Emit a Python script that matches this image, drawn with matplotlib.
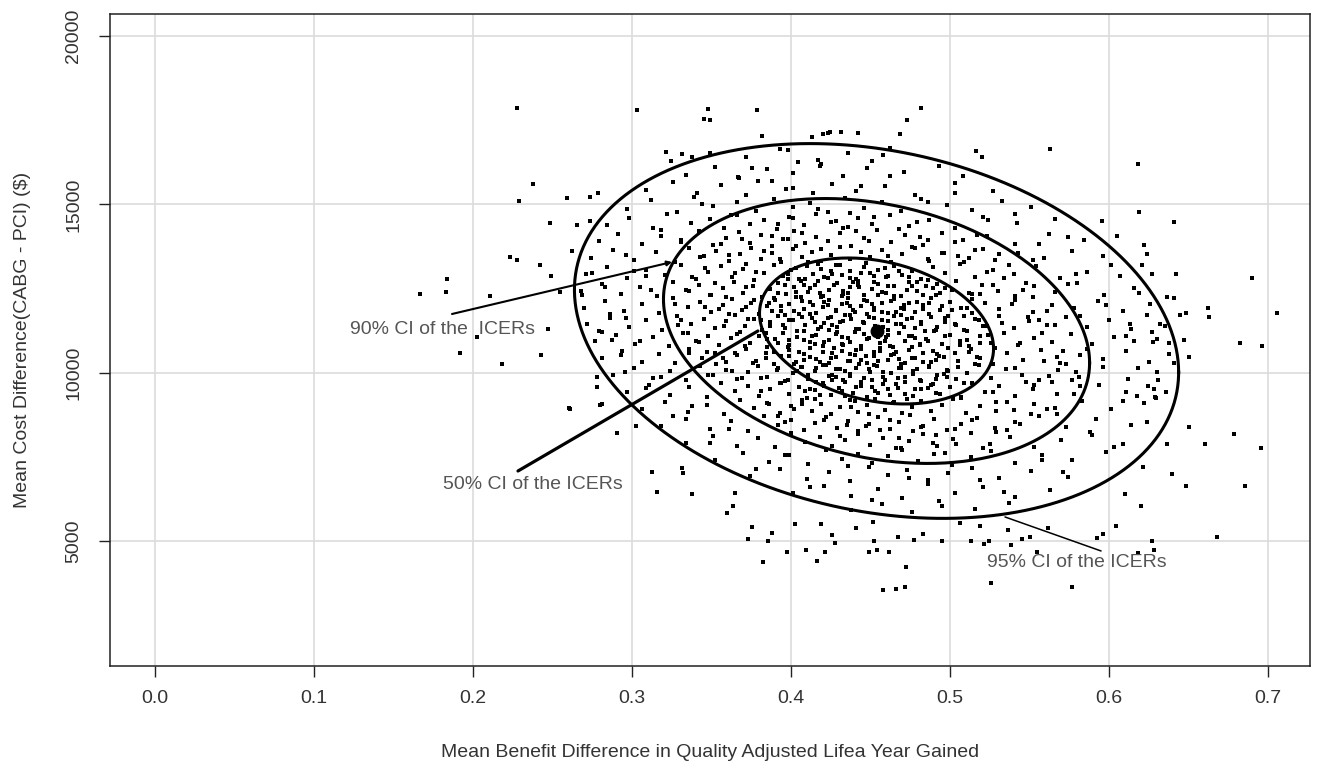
"""Cost-effectiveness plane: bootstrapped ICERs with confidence ellipses."""

import matplotlib

matplotlib.use("Agg")

import matplotlib.pyplot as plt
import numpy as np

plt.rcParams["font.family"] = ["Liberation Sans", "DejaVu Sans"]

INK = "#222222"
TEXT = "#333333"
NOTE = "#555555"
GRID = "#DCDCDC"

# ---- data ----------------------------------------------------------------
# mean of the bootstrap replicates
mean_point = (0.4538, 11246)

# confidence ellipses: half-extents along x / y and the x-y correlation
ellipse_names = ["50%", "90%", "95%"]
ellipse_half_x = [0.0736, 0.134, 0.190]
ellipse_half_y = [2166, 3930, 5560]
ellipse_rho = [-0.24, -0.24, -0.22]

# sparse replicates around / outside the outer ellipse
outer_points = [
    (0.2275, 17850), (0.2379, 15600), (0.2291, 15100), (0.2589, 15200), (0.2736, 15230),
    (0.2788, 15350), (0.2484, 14460), (0.2652, 14390), (0.2736, 14510), (0.2625, 13630),
    (0.2233, 13430), (0.2275, 13350), (0.2421, 13210), (0.2491, 12890), (0.2746, 12980),
    (0.1838, 12790), (0.1828, 12400), (0.1667, 12350), (0.2107, 12290), (0.2547, 12410),
    (0.2684, 12310), (0.1918, 10580), (0.2180, 10260), (0.2426, 10530), (0.2470, 11310),
    (0.2023, 11060), (0.2606, 8950), (0.2778, 9890), (0.2778, 9590), (0.2809, 9070),
    (0.2908, 8210), (0.2956, 10040), (0.2809, 11230), (0.2872, 10980), (0.2610, 8930),
    (0.2799, 9050), (0.3025, 8440), (0.3128, 7050), (0.3159, 6460), (0.3312, 7170),
    (0.3319, 7020), (0.3379, 6410), (0.3648, 6450), (0.3637, 6060), (0.3596, 5840),
    (0.3753, 5440), (0.3731, 5070), (0.3857, 5020), (0.3878, 5240), (0.3826, 4400),
    (0.3977, 4700), (0.4025, 5520), (0.4092, 4750), (0.4162, 4420), (0.4187, 5530),
    (0.4214, 4700), (0.4260, 5190), (0.4277, 4950), (0.4409, 5410), (0.4518, 5590),
    (0.4522, 5000), (0.4493, 4700), (0.4539, 4750), (0.4618, 4700), (0.4675, 5140),
    (0.4723, 4240), (0.4775, 5050), (0.4828, 5210), (0.4577, 3560), (0.4660, 3590),
    (0.4717, 3660), (0.4952, 5020), (0.5063, 5540), (0.5130, 5020), (0.5189, 5470),
    (0.5216, 4920), (0.5245, 5020), (0.5256, 3760), (0.5382, 4900), (0.5367, 5340),
    (0.5451, 5070), (0.5503, 5140), (0.5545, 4700), (0.5618, 5390), (0.5765, 3660),
    (0.5922, 5100), (0.5960, 5220), (0.6044, 5460), (0.6201, 6050), (0.6101, 6410),
    (0.6184, 4650), (0.6272, 5000), (0.6283, 4750), (0.6484, 6650), (0.6677, 5140),
    (0.6855, 6660), (0.5629, 16640), (0.6180, 16190), (0.6189, 14770), (0.6411, 14470),
    (0.5954, 14520), (0.6048, 14070), (0.6222, 13800), (0.6237, 13530), (0.6206, 13200),
    (0.6272, 12940), (0.6421, 12940), (0.6363, 12260), (0.6409, 12230), (0.6447, 11720),
    (0.6482, 11770), (0.6621, 11920), (0.6629, 11670), (0.6901, 12830), (0.7058, 11770),
    (0.6824, 10880), (0.6964, 10810), (0.6505, 10470), (0.6474, 10980), (0.6300, 11000),
    (0.6275, 10930), (0.6136, 11310), (0.6310, 9790), (0.6247, 9620), (0.6283, 9520),
    (0.6293, 9250), (0.6178, 9320), (0.6786, 8190), (0.6956, 7780), (0.6604, 7880),
    (0.6501, 8390), (0.6394, 7000), (0.6363, 7890), (0.6216, 7220), (0.3033, 17800),
    (0.3480, 17830), (0.3453, 17540), (0.3491, 17510), (0.3784, 17800), (0.3816, 17040),
    (0.4134, 17010), (0.4199, 17080), (0.4235, 17110), (0.4245, 17140), (0.4314, 17140),
    (0.4423, 17110), (0.4686, 17080), (0.4732, 17510), (0.4816, 17850), (0.5161, 16600),
    (0.5203, 16400), (0.3212, 16570), (0.3245, 16290), (0.3312, 16490), (0.3375, 16420),
    (0.3491, 16520), (0.3931, 16640), (0.3753, 16090), (0.4046, 16250), (0.4581, 16470),
    (0.5084, 15850), (0.3669, 15800),
]

# replicates inside the outer ellipse, listed band by band from the top
band_points = [
    (0.372, 16420), (0.398, 16610), (0.417, 16330), (0.436, 16520), (0.451, 16290), (0.462, 16680),
    (0.334, 15880), (0.352, 16120), (0.367, 15790), (0.385, 16040), (0.401, 15920), (0.419, 16190),
    (0.433, 15830), (0.448, 16070), (0.471, 15960), (0.493, 16150),
    (0.309, 15420), (0.326, 15680), (0.341, 15350), (0.356, 15590), (0.372, 15280), (0.388, 15710),
    (0.397, 15460), (0.414, 15330), (0.426, 15620), (0.441, 15390), (0.459, 15540), (0.478, 15270),
    (0.503, 15650), (0.527, 15410),
    (0.297, 14880), (0.312, 15120), (0.328, 14790), (0.339, 15210), (0.351, 14960), (0.366, 15080),
    (0.378, 14820), (0.389, 15170), (0.401, 14930), (0.412, 15040), (0.423, 14770), (0.434, 15190),
    (0.446, 14900), (0.457, 15060), (0.469, 14810), (0.482, 15150), (0.498, 14970), (0.514, 14850),
    (0.533, 15090), (0.551, 14920),
    (0.284, 14380), (0.298, 14610), (0.313, 14290), (0.322, 14720), (0.337, 14450), (0.349, 14560),
    (0.358, 14310), (0.366, 14690), (0.374, 14420), (0.383, 14530), (0.391, 14270), (0.399, 14640),
    (0.408, 14380), (0.416, 14710), (0.425, 14490), (0.433, 14300), (0.442, 14600), (0.451, 14410),
    (0.462, 14680), (0.474, 14350), (0.487, 14550), (0.503, 14290), (0.521, 14620), (0.542, 14440),
    (0.566, 14570),
    (0.279, 13910), (0.291, 14130), (0.306, 13820), (0.318, 14060), (0.331, 13950), (0.342, 14210),
    (0.351, 13790), (0.359, 14000), (0.367, 14180), (0.374, 13870), (0.381, 14090), (0.388, 13760),
    (0.395, 13990), (0.402, 14220), (0.409, 13850), (0.416, 14040), (0.423, 13920), (0.431, 14160),
    (0.438, 13780), (0.446, 14010), (0.454, 14230), (0.463, 13890), (0.472, 14080), (0.483, 13810),
    (0.495, 14150), (0.508, 13940), (0.523, 14070), (0.541, 13830), (0.562, 14110), (0.584, 13960),
    (0.274, 13420), (0.288, 13640), (0.301, 13350), (0.315, 13580), (0.327, 13290), (0.336, 13710),
    (0.345, 13470), (0.353, 13610), (0.361, 13330), (0.368, 13540), (0.375, 13720), (0.381, 13390),
    (0.388, 13560), (0.394, 13280), (0.401, 13680), (0.407, 13450), (0.413, 13600), (0.419, 13320),
    (0.425, 13510), (0.431, 13740), (0.437, 13370), (0.444, 13590), (0.450, 13430), (0.457, 13660),
    (0.463, 13300), (0.470, 13520), (0.478, 13700), (0.486, 13380), (0.495, 13570), (0.505, 13460),
    (0.516, 13650), (0.528, 13340), (0.543, 13550), (0.559, 13420), (0.577, 13620), (0.596, 13480),
    (0.271, 12940), (0.284, 13150), (0.297, 12830), (0.309, 13060), (0.321, 12910), (0.331, 13200),
    (0.340, 12790), (0.348, 13010), (0.356, 13170), (0.363, 12860), (0.370, 13090), (0.377, 12770),
    (0.383, 12980), (0.389, 13210), (0.395, 12880), (0.400, 13050), (0.405, 12800), (0.410, 13160),
    (0.414, 12950), (0.419, 13080), (0.423, 12820), (0.428, 13190), (0.432, 12900), (0.437, 13030),
    (0.441, 12780), (0.446, 13140), (0.450, 12970), (0.455, 13070), (0.460, 12840), (0.465, 13180),
    (0.470, 12920), (0.476, 13040), (0.482, 12790), (0.489, 13130), (0.497, 12960), (0.506, 13220),
    (0.516, 12850), (0.527, 13060), (0.540, 12930), (0.554, 13170), (0.569, 12810), (0.586, 13000),
    (0.607, 12890),
    (0.268, 12420), (0.281, 12630), (0.293, 12340), (0.305, 12560), (0.316, 12280), (0.326, 12710),
    (0.334, 12450), (0.342, 12600), (0.350, 12310), (0.357, 12520), (0.364, 12700), (0.370, 12370),
    (0.376, 12580), (0.382, 12260), (0.387, 12490), (0.392, 12680), (0.397, 12330), (0.402, 12550),
    (0.406, 12740), (0.411, 12400), (0.415, 12610), (0.420, 12290), (0.424, 12470), (0.429, 12660),
    (0.433, 12350), (0.437, 12540), (0.442, 12720), (0.446, 12300), (0.451, 12500), (0.455, 12640),
    (0.460, 12380), (0.465, 12570), (0.469, 12270), (0.474, 12690), (0.479, 12430), (0.485, 12590),
    (0.491, 12320), (0.497, 12510), (0.504, 12730), (0.512, 12360), (0.520, 12620), (0.530, 12440),
    (0.541, 12270), (0.553, 12580), (0.566, 12390), (0.580, 12670), (0.597, 12300), (0.616, 12530),
    (0.270, 11930), (0.283, 12140), (0.295, 11840), (0.306, 12060), (0.317, 11790), (0.326, 12210),
    (0.335, 11950), (0.343, 12100), (0.350, 11820), (0.357, 12020), (0.363, 12200), (0.369, 11870),
    (0.375, 12080), (0.380, 11760), (0.385, 11990), (0.390, 12180), (0.394, 11830), (0.399, 12050),
    (0.403, 12240), (0.408, 11900), (0.412, 12110), (0.416, 11790), (0.420, 11970), (0.424, 12160),
    (0.428, 11850), (0.432, 12040), (0.436, 12220), (0.440, 11800), (0.444, 12000), (0.448, 12140),
    (0.452, 11880), (0.457, 12070), (0.461, 11770), (0.465, 12190), (0.469, 11930), (0.474, 12090),
    (0.478, 11820), (0.483, 12010), (0.488, 12230), (0.494, 11860), (0.500, 12120), (0.507, 11940),
    (0.514, 11780), (0.522, 12080), (0.531, 11890), (0.541, 12170), (0.552, 11810), (0.564, 12030),
    (0.578, 11920), (0.593, 12150), (0.609, 11850), (0.626, 12060),
    (0.272, 11440), (0.286, 11620), (0.298, 11350), (0.309, 11570), (0.319, 11290), (0.328, 11700),
    (0.337, 11460), (0.345, 11610), (0.352, 11320), (0.359, 11530), (0.365, 11710), (0.371, 11380),
    (0.377, 11590), (0.382, 11270), (0.387, 11500), (0.392, 11690), (0.396, 11340), (0.401, 11560),
    (0.405, 11740), (0.409, 11410), (0.413, 11620), (0.417, 11300), (0.421, 11480), (0.425, 11670),
    (0.429, 11360), (0.433, 11550), (0.437, 11730), (0.441, 11310), (0.445, 11510), (0.449, 11650),
    (0.453, 11390), (0.457, 11580), (0.461, 11280), (0.465, 11700), (0.469, 11440), (0.473, 11600),
    (0.478, 11330), (0.482, 11520), (0.487, 11740), (0.492, 11370), (0.497, 11630), (0.503, 11450),
    (0.509, 11290), (0.516, 11590), (0.523, 11400), (0.531, 11680), (0.540, 11320), (0.550, 11540),
    (0.561, 11430), (0.573, 11660), (0.586, 11350), (0.600, 11570), (0.613, 11460), (0.624, 11720),
    (0.635, 11380),
    (0.277, 10940), (0.290, 11120), (0.302, 10850), (0.313, 11070), (0.323, 10790), (0.332, 11200),
    (0.340, 10960), (0.348, 11110), (0.355, 10820), (0.362, 11030), (0.368, 11210), (0.374, 10880),
    (0.380, 11090), (0.385, 10770), (0.390, 11000), (0.395, 11190), (0.399, 10840), (0.404, 11060),
    (0.408, 11240), (0.412, 10910), (0.416, 11120), (0.420, 10800), (0.424, 10980), (0.428, 11170),
    (0.432, 10860), (0.436, 11050), (0.440, 11230), (0.444, 10810), (0.448, 11010), (0.452, 11150),
    (0.456, 10890), (0.460, 11080), (0.464, 10780), (0.468, 11200), (0.472, 10940), (0.476, 11100),
    (0.481, 10830), (0.485, 11020), (0.490, 11240), (0.495, 10870), (0.500, 11130), (0.506, 10950),
    (0.512, 10790), (0.519, 11090), (0.526, 10900), (0.534, 11180), (0.543, 10820), (0.553, 11040),
    (0.564, 10930), (0.576, 11160), (0.589, 10850), (0.603, 11070), (0.616, 10960), (0.627, 11220),
    (0.638, 10880),
    (0.281, 10430), (0.294, 10640), (0.306, 10340), (0.317, 10560), (0.327, 10290), (0.336, 10710),
    (0.344, 10450), (0.352, 10600), (0.359, 10320), (0.366, 10520), (0.372, 10700), (0.378, 10370),
    (0.384, 10580), (0.389, 10260), (0.394, 10490), (0.399, 10680), (0.403, 10330), (0.408, 10550),
    (0.412, 10740), (0.416, 10400), (0.420, 10610), (0.424, 10290), (0.428, 10470), (0.432, 10660),
    (0.436, 10350), (0.440, 10540), (0.444, 10720), (0.448, 10300), (0.452, 10500), (0.456, 10640),
    (0.461, 10380), (0.465, 10570), (0.469, 10270), (0.474, 10690), (0.478, 10430), (0.483, 10590),
    (0.488, 10320), (0.493, 10510), (0.499, 10730), (0.505, 10360), (0.512, 10620), (0.519, 10440),
    (0.527, 10280), (0.536, 10580), (0.546, 10390), (0.557, 10670), (0.569, 10310), (0.582, 10530),
    (0.596, 10420), (0.611, 10650), (0.625, 10340), (0.638, 10560),
    (0.288, 9930), (0.301, 10140), (0.313, 9840), (0.324, 10060), (0.334, 9790), (0.343, 10210),
    (0.351, 9950), (0.359, 10100), (0.366, 9820), (0.373, 10020), (0.379, 10200), (0.385, 9870),
    (0.391, 10080), (0.396, 9760), (0.401, 9990), (0.406, 10180), (0.411, 9830), (0.415, 10050),
    (0.420, 10240), (0.424, 9900), (0.428, 10110), (0.433, 9790), (0.437, 9970), (0.441, 10160),
    (0.446, 9850), (0.450, 10040), (0.454, 10220), (0.459, 9800), (0.463, 10000), (0.468, 10140),
    (0.472, 9880), (0.477, 10070), (0.482, 9770), (0.487, 10190), (0.492, 9930), (0.498, 10090),
    (0.504, 9820), (0.511, 10010), (0.518, 10230), (0.526, 9860), (0.535, 10120), (0.545, 9940),
    (0.556, 9780), (0.568, 10080), (0.581, 9890), (0.596, 10170), (0.612, 9810), (0.630, 10030),
    (0.297, 9440), (0.311, 9650), (0.324, 9350), (0.336, 9570), (0.347, 9290), (0.356, 9710),
    (0.365, 9460), (0.373, 9610), (0.380, 9320), (0.387, 9530), (0.393, 9700), (0.399, 9380),
    (0.405, 9590), (0.410, 9270), (0.415, 9500), (0.420, 9690), (0.425, 9340), (0.430, 9560),
    (0.434, 9740), (0.439, 9410), (0.444, 9620), (0.448, 9300), (0.453, 9480), (0.458, 9670),
    (0.462, 9360), (0.467, 9550), (0.472, 9730), (0.477, 9310), (0.482, 9510), (0.488, 9650),
    (0.494, 9390), (0.500, 9580), (0.507, 9280), (0.514, 9700), (0.522, 9440), (0.531, 9600),
    (0.541, 9330), (0.552, 9520), (0.564, 9740), (0.578, 9370), (0.594, 9630), (0.611, 9450),
    (0.629, 9290),
    (0.306, 8920), (0.321, 9140), (0.335, 8840), (0.347, 9060), (0.358, 8790), (0.368, 9200),
    (0.377, 8950), (0.385, 9100), (0.393, 8820), (0.400, 9030), (0.407, 9210), (0.413, 8880),
    (0.419, 9090), (0.425, 8770), (0.431, 9000), (0.437, 9190), (0.442, 8840), (0.448, 9060),
    (0.453, 9240), (0.459, 8910), (0.464, 9120), (0.470, 8800), (0.476, 8980), (0.482, 9170),
    (0.488, 8860), (0.495, 9050), (0.502, 9230), (0.510, 8820), (0.519, 9010), (0.529, 9150),
    (0.540, 8890), (0.553, 9080), (0.567, 8780), (0.583, 9180), (0.601, 8940), (0.622, 9100),
    (0.318, 8420), (0.334, 8640), (0.349, 8350), (0.362, 8570), (0.373, 8290), (0.383, 8710),
    (0.392, 8460), (0.400, 8610), (0.408, 8320), (0.415, 8530), (0.422, 8700), (0.429, 8380),
    (0.436, 8590), (0.442, 8270), (0.449, 8500), (0.455, 8690), (0.462, 8340), (0.468, 8560),
    (0.475, 8740), (0.482, 8410), (0.490, 8620), (0.498, 8300), (0.507, 8480), (0.517, 8670),
    (0.528, 8360), (0.541, 8550), (0.556, 8730), (0.573, 8400), (0.592, 8630), (0.614, 8450),
    (0.334, 7930), (0.351, 8140), (0.366, 7840), (0.379, 8060), (0.390, 7790), (0.400, 8210),
    (0.409, 7950), (0.418, 8100), (0.426, 7820), (0.434, 8020), (0.442, 8200), (0.450, 7870),
    (0.458, 8080), (0.466, 7760), (0.474, 7990), (0.483, 8180), (0.492, 7830), (0.502, 8050),
    (0.513, 8230), (0.525, 7900), (0.538, 8110), (0.553, 7800), (0.570, 8010), (0.589, 8160),
    (0.609, 7880),
    (0.352, 7430), (0.370, 7640), (0.386, 7350), (0.399, 7570), (0.411, 7290), (0.422, 7710),
    (0.432, 7460), (0.442, 7610), (0.451, 7320), (0.461, 7530), (0.470, 7700), (0.480, 7380),
    (0.490, 7590), (0.501, 7270), (0.513, 7500), (0.526, 7680), (0.541, 7340), (0.558, 7560),
    (0.577, 7420), (0.598, 7650),
    (0.374, 6940), (0.393, 7150), (0.410, 6850), (0.424, 7070), (0.437, 6790), (0.449, 7210),
    (0.461, 6960), (0.473, 7110), (0.486, 6830), (0.499, 7030), (0.514, 7190), (0.531, 6880),
    (0.551, 7080), (0.574, 6920),
    (0.401, 6450), (0.421, 6640), (0.438, 6360), (0.455, 6570), (0.470, 6290), (0.486, 6700),
    (0.503, 6440), (0.521, 6610), (0.541, 6330), (0.563, 6520),
    (0.438, 5930), (0.457, 6110), (0.476, 5880), (0.495, 6060), (0.516, 5950), (0.537, 6140),
]

# extra replicates in the dark core (inside the 50% ellipse)
core_points = [
    (0.403, 13110), (0.447, 13270), (0.421, 12860), (0.468, 13020), (0.439, 12690), (0.412, 12530),
    (0.486, 12770), (0.457, 12410), (0.398, 12950), (0.431, 13190), (0.476, 12580), (0.419, 12240),
    (0.501, 12460), (0.444, 12980), (0.392, 12360), (0.463, 12150), (0.427, 12620), (0.483, 12300),
    (0.409, 12790), (0.452, 12710), (0.386, 12070), (0.514, 12190), (0.435, 12080), (0.471, 11910),
    (0.402, 11840), (0.495, 11990), (0.448, 11760), (0.423, 11630), (0.381, 11560), (0.509, 11700),
    (0.461, 11540), (0.437, 11980), (0.479, 12110), (0.414, 12010), (0.396, 11710), (0.455, 12320),
    (0.488, 11650), (0.426, 11420), (0.521, 11380), (0.443, 11310), (0.468, 11190), (0.404, 11260),
    (0.385, 11020), (0.497, 11110), (0.432, 11080), (0.459, 10940), (0.415, 10860), (0.476, 10770),
    (0.506, 10830), (0.441, 10690), (0.389, 10610), (0.463, 10520), (0.425, 10450), (0.491, 10390),
    (0.402, 10280), (0.452, 10230), (0.517, 10470), (0.434, 10060), (0.479, 10120), (0.411, 9930),
    (0.467, 9850), (0.496, 9970), (0.444, 9740), (0.421, 9610), (0.486, 9560), (0.455, 9420),
    (0.509, 9690), (0.434, 9310), (0.473, 9240), (0.398, 9780), (0.418, 12380), (0.446, 12170),
    (0.474, 12850), (0.433, 12430), (0.461, 12590), (0.492, 12630), (0.407, 12150), (0.428, 11870),
    (0.452, 11930), (0.469, 11720), (0.501, 11860), (0.388, 11830), (0.415, 11500), (0.438, 11600),
    (0.482, 11450), (0.458, 11360), (0.429, 11210), (0.511, 11240), (0.395, 11410), (0.449, 11050),
    (0.471, 11350), (0.408, 10990), (0.486, 10950), (0.427, 10740), (0.452, 10630), (0.399, 10490),
    (0.472, 10300), (0.437, 10370), (0.503, 10590), (0.416, 10160), (0.458, 10040), (0.487, 10200),
    (0.428, 9890), (0.447, 10510), (0.466, 9660), (0.412, 9520), (0.491, 9400), (0.440, 9160),
    (0.478, 9510), (0.422, 10240), (0.411, 13300), (0.437, 12820), (0.459, 13120), (0.425, 13040),
    (0.473, 12470), (0.396, 12620), (0.443, 12550), (0.417, 12720), (0.487, 12090), (0.432, 12270),
    (0.451, 12040), (0.403, 12400), (0.466, 11800), (0.421, 12120), (0.476, 11620), (0.394, 11980),
    (0.446, 11470), (0.518, 11560), (0.434, 11720), (0.461, 11130), (0.407, 11660), (0.491, 11280),
    (0.382, 11290), (0.419, 11350), (0.455, 11230), (0.437, 10910), (0.478, 11030), (0.511, 10990),
    (0.398, 10780), (0.462, 10810), (0.426, 10580), (0.489, 10660), (0.444, 10380), (0.408, 10390),
    (0.476, 10450), (0.516, 10260), (0.431, 10130), (0.455, 10350), (0.499, 10070), (0.392, 10140),
    (0.416, 9720), (0.481, 9780), (0.451, 9590), (0.432, 9480), (0.507, 9270), (0.465, 9130),
    (0.426, 9950), (0.491, 9820), (0.458, 9880), (0.404, 10050),
    (0.417, 13240), (0.452, 12890), (0.479, 12690), (0.408, 12610), (0.436, 12360), (0.465, 12270),
    (0.494, 12380), (0.389, 12210), (0.423, 12010), (0.457, 11820), (0.483, 11890), (0.511, 11930),
    (0.399, 11560), (0.431, 11510), (0.466, 11460), (0.497, 11520), (0.384, 11180), (0.413, 11110),
    (0.446, 11170), (0.474, 11090), (0.504, 11410), (0.524, 11130), (0.392, 10880), (0.421, 10910),
    (0.456, 10750), (0.481, 10860), (0.513, 10710), (0.405, 10610), (0.437, 10560), (0.468, 10410),
    (0.496, 10480), (0.418, 10330), (0.449, 10130), (0.477, 9980), (0.505, 10170), (0.426, 9790),
    (0.461, 9530), (0.489, 9680), (0.441, 9590), (0.472, 9370), (0.398, 12780), (0.426, 12930),
    (0.461, 12880), (0.489, 12510), (0.514, 12330), (0.442, 12620), (0.406, 12260), (0.471, 12010),
    (0.439, 11860), (0.412, 11760), (0.499, 11680), (0.452, 11640), (0.387, 11390), (0.424, 11280),
    (0.484, 11250), (0.455, 11080), (0.519, 10880), (0.399, 10990), (0.433, 10820), (0.466, 10630),
    (0.492, 10570), (0.412, 10480), (0.443, 10270), (0.483, 10330), (0.407, 10180), (0.437, 9920),
    (0.469, 10160), (0.498, 9890), (0.451, 9780), (0.418, 9360),
]

# extra replicates between the 50% and the 95% ellipses
ring_points = [
    (0.356, 13830), (0.392, 14420), (0.417, 14870), (0.468, 14260), (0.503, 13880), (0.531, 13520),
    (0.372, 13240), (0.338, 12850), (0.349, 12310), (0.361, 11740), (0.335, 11190), (0.347, 10630),
    (0.363, 10070), (0.381, 9480), (0.402, 8930), (0.435, 8460), (0.468, 8070), (0.497, 7640),
    (0.529, 8240), (0.551, 8790), (0.567, 9380), (0.579, 10020), (0.571, 10640), (0.558, 11190),
    (0.561, 11830), (0.546, 12470), (0.523, 13010), (0.496, 13560), (0.449, 13930), (0.407, 14160),
    (0.383, 13620), (0.365, 12960), (0.372, 12560), (0.358, 11390), (0.371, 10800), (0.376, 10290),
    (0.394, 9690), (0.415, 9240), (0.449, 8780), (0.483, 8440), (0.514, 8610), (0.536, 9140),
    (0.548, 9720), (0.559, 10350), (0.544, 10880), (0.533, 11470), (0.539, 12060), (0.527, 12600),
    (0.509, 13280), (0.476, 13740), (0.428, 14510), (0.452, 14640), (0.398, 13970), (0.343, 13450),
    (0.327, 12060), (0.331, 11560), (0.342, 10910), (0.357, 10440), (0.369, 9860), (0.386, 9090),
    (0.421, 8610), (0.456, 8300), (0.489, 7920), (0.521, 7780), (0.544, 8480), (0.566, 8960),
    (0.582, 9620), (0.573, 10270), (0.566, 11420), (0.552, 12240), (0.534, 12820), (0.512, 13420),
    (0.481, 14030), (0.436, 14330), (0.388, 14060), (0.361, 13490), (0.377, 12180), (0.366, 11150),
    (0.384, 10430), (0.409, 9470), (0.438, 8990), (0.462, 8610), (0.503, 8340), (0.527, 9450),
    (0.541, 10150), (0.528, 10740), (0.549, 11660), (0.519, 12350), (0.487, 13310), (0.461, 13480),
    (0.419, 13670), (0.393, 13380), (0.352, 12660), (0.346, 11960), (0.373, 11590), (0.353, 10270),
    (0.392, 8710), (0.477, 8280), (0.562, 9920), (0.537, 13190),
    (0.346, 13120), (0.369, 13980), (0.401, 14590), (0.437, 14760), (0.479, 14480), (0.517, 14100),
    (0.552, 13360), (0.574, 12640), (0.582, 11700), (0.586, 10720), (0.577, 9790), (0.561, 8920),
    (0.536, 8310), (0.504, 7890), (0.469, 7760), (0.431, 8140), (0.396, 8560), (0.368, 9190),
    (0.348, 9940), (0.336, 10580), (0.329, 11410), (0.336, 12430), (0.359, 12260), (0.372, 11970),
    (0.365, 10590), (0.381, 9850), (0.407, 9090), (0.447, 8440), (0.491, 8170), (0.529, 8870),
    (0.553, 9640), (0.567, 10480), (0.556, 11560), (0.548, 12680), (0.521, 13680), (0.486, 13960),
    (0.441, 14210), (0.403, 13780), (0.378, 13010), (0.355, 11890),
    (0.301, 13040), (0.286, 11760), (0.293, 10530), (0.309, 9540), (0.326, 8710), (0.349, 7920),
    (0.378, 7160), (0.412, 6620), (0.451, 6240), (0.493, 6190), (0.534, 6470), (0.571, 7060),
    (0.603, 7810), (0.624, 8560), (0.636, 9430), (0.641, 10290), (0.632, 11460), (0.619, 12380),
    (0.601, 13190), (0.574, 14020), (0.541, 14730), (0.503, 15340), (0.462, 15840), (0.418, 16130),
    (0.379, 15690), (0.344, 15010), (0.318, 14250), (0.296, 13510), (0.283, 12560), (0.279, 11240),
    (0.312, 12470), (0.305, 10960), (0.318, 9880), (0.338, 9030), (0.361, 8330), (0.396, 7560),
    (0.436, 7240), (0.474, 6870), (0.519, 6830), (0.558, 7420), (0.588, 8260), (0.609, 9160),
    (0.618, 10160), (0.611, 11090), (0.598, 12020), (0.579, 12940), (0.556, 13840), (0.524, 14550),
    (0.486, 15060), (0.444, 15560), (0.401, 15490), (0.362, 14680), (0.331, 13890), (0.309, 12880),
    (0.296, 11620),
]

x_ticks = [0.0, 0.1, 0.2, 0.3, 0.4, 0.5, 0.6, 0.7]
y_ticks = [5000, 10000, 15000, 20000]

# annotation texts, text anchors and leader lines (start -> end), data coords
note_texts = ["90% CI of the  ICERs", "50% CI of the ICERs", "95% CI of the ICERs"]
note_anchor = [(0.1226, 11276), (0.1811, 6677), (0.5233, 4363)]
note_from = [(0.1868, 11750), (0.2283, 7092), (0.5950, 4719)]
note_to = [(0.3252, 13293), (0.3792, 11246), (0.5346, 5728)]
note_lw = [1.5, 2.3, 1.1]

# ---- figure --------------------------------------------------------------
fig = plt.figure(figsize=(13.22, 7.76), dpi=100)
ax = fig.add_axes([0.0832, 0.1418, 0.9077, 0.8402])

ax.set_xlim(-0.0283, 0.7264)
ax.set_ylim(1307, 20652)
ax.set_xticks(x_ticks)
ax.set_xticklabels([f"{v:.1f}" for v in x_ticks])
ax.set_yticks(y_ticks)
ax.set_yticklabels([str(v) for v in y_ticks], rotation=90, va="center")
ax.grid(True, color=GRID, linewidth=1.2)
ax.set_axisbelow(True)

for side in ax.spines.values():
    side.set_color(INK)
    side.set_linewidth(1.1)
ax.tick_params(axis="both", length=8, width=1.0, color=INK, labelcolor=TEXT, labelsize=14)
ax.tick_params(axis="x", pad=9)
ax.tick_params(axis="y", pad=12)

pts = np.array(outer_points + band_points + core_points + ring_points, dtype=float)
ax.scatter(pts[:, 0], pts[:, 1], marker="s", s=6.0, color="black", linewidths=0, zorder=3)

t = np.linspace(0.0, 2.0 * np.pi, 400)
for hx, hy, rho in zip(ellipse_half_x, ellipse_half_y, ellipse_rho):
    ex = mean_point[0] + hx * np.cos(t)
    ey = mean_point[1] + hy * (rho * np.cos(t) + np.sqrt(1 - rho**2) * np.sin(t))
    ax.plot(ex, ey, color="black", linewidth=2.2, zorder=4)

ax.plot(*mean_point, marker="o", markersize=9, color="black", zorder=5)

for i, label in enumerate(note_texts):
    style = "-|>" if i == 0 else "-"
    ax.annotate(
        "",
        xy=note_to[i],
        xytext=note_from[i],
        arrowprops={"arrowstyle": style, "color": "black", "lw": note_lw[i],
                    "mutation_scale": 7, "shrinkA": 0, "shrinkB": 0},
        zorder=6,
    )
    ax.text(*note_anchor[i], label, ha="left", va="center", fontsize=14, color=NOTE, zorder=6)

ax.set_xlabel("Mean Benefit Difference in Quality Adjusted Lifea Year Gained",
              fontsize=14, color=TEXT, labelpad=27)
ax.set_ylabel("Mean Cost Difference(CABG - PCI) ($)", fontsize=14, color=TEXT)
ax.yaxis.set_label_coords(-0.066, 0.5)

fig.savefig("out.png", dpi=100)
plt.close(fig)
